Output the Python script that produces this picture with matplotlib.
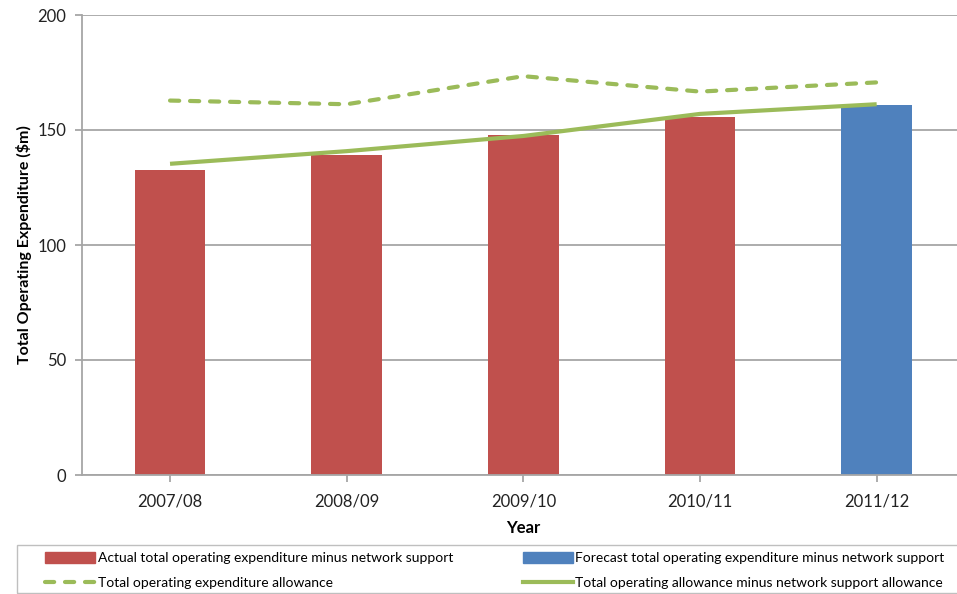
import numpy as np
import matplotlib.pyplot as plt
from matplotlib.patches import Patch, Rectangle
from matplotlib.lines import Line2D

plt.rcParams['font.family'] = ['Lato', 'DejaVu Sans']

years = ['2007/08', '2008/09', '2009/10', '2010/11', '2011/12']
actual_opex = [132.5, 139.2, 147.8, 155.8, np.nan]
forecast_opex = [np.nan, np.nan, np.nan, np.nan, 160.9]
opex_allowance = [162.8, 161.2, 173.4, 166.7, 170.7]
allowance_minus_ns = [135.3, 140.8, 147.4, 157.0, 161.2]

red = '#C0504D'
blue = '#4F81BD'
green = '#9BBB59'
grid_grey = '#A6A6A6'

W, H = 957, 594
fig = plt.figure(figsize=(W / 100, H / 100), dpi=100)
ax = fig.add_axes([81.7 / W, 119 / H, (965 - 81.7) / W, 460 / H])

x = np.arange(len(years))
ax.bar(x, actual_opex, width=0.4, color=red, zorder=2)
ax.bar(x, forecast_opex, width=0.4, color=blue, zorder=2)
ax.plot(x, opex_allowance, color=green, lw=3, linestyle=(0, (2.2, 2.6)),
        dash_capstyle='round', zorder=3)
ax.plot(x, allowance_minus_ns, color=green, lw=3, solid_capstyle='butt', zorder=3)

ax.set_xlim(-0.5, 4.5)
ax.set_ylim(0, 200)
ax.set_yticks([0, 50, 100, 150, 200])
ax.set_xticks(x)
ax.set_xticklabels(years)
ax.grid(axis='y', color=grid_grey, lw=1.3, zorder=0)
ax.set_axisbelow(True)

for side in ['top', 'right']:
    ax.spines[side].set_visible(False)
for side in ['left', 'bottom']:
    ax.spines[side].set_color(grid_grey)
    ax.spines[side].set_linewidth(1.3)
ax.tick_params(axis='both', colors=grid_grey, length=5, width=1.3,
               labelsize=12, labelcolor='#222222')
ax.tick_params(axis='x', pad=8)
ax.tick_params(axis='y', pad=6)

ax.set_ylabel('Total Operating Expenditure ($m)', fontsize=11.5,
              fontweight='bold', labelpad=4)
ax.set_xlabel('Year', fontsize=12, fontweight='bold', labelpad=8)

# legend box drawn separately so the entries can sit inset from its edge
fig.patches.append(Rectangle((17 / W, 1 / H), (970 - 17) / W, 48 / H,
                             transform=fig.transFigure, fill=False,
                             edgecolor='#BFBFBF', lw=1.0))

handles = [
    Patch(color=red),
    Line2D([], [], color=green, lw=3, linestyle=(0, (2.2, 2.6)), dash_capstyle='round'),
    Patch(color=blue),
    Line2D([], [], color=green, lw=3),
]
labels = [
    'Actual total operating expenditure minus network support',
    'Total operating expenditure allowance',
    'Forecast total operating expenditure minus network support',
    'Total operating allowance minus network support allowance',
]
leg = fig.legend(handles, labels, ncol=2, loc='lower left',
                 bbox_to_anchor=(45 / W, 5 / H),
                 fontsize=10, frameon=False,
                 handlelength=3.6, handleheight=0.8, handletextpad=0.2,
                 borderaxespad=0, borderpad=0, labelspacing=0.9,
                 columnspacing=5.0)

fig.savefig('out.png', dpi=100)
